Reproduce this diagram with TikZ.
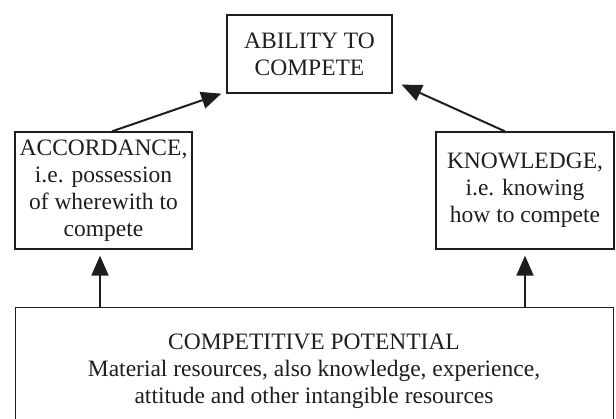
\documentclass[tikz,border=0pt]{standalone}
\usepackage{fontspec}
\setmainfont{Liberation Serif}
\usetikzlibrary{arrows.meta,calc}
\definecolor{ink}{HTML}{1E1E1E}
\begin{document}
\begin{tikzpicture}[x=1pt,y=1pt,
  txt/.style={align=center, text=ink, inner sep=0pt, font=\fontsize{23.5}{27}\selectfont},
  box/.style={txt, draw=ink, line width=1.3pt},
  conn/.style={draw=ink, line width=2pt, -{Triangle[length=20pt,width=17pt]}}]
\useasboundingbox (0,0) rectangle (616,-418);
\clip (0,0) rectangle (616,-418);
\node[box, minimum width=165pt, minimum height=78pt] (top) at (309.5,-54) {ABILITY TO\\COMPETE};
\node[box, minimum width=177pt, minimum height=117pt] (left) at (103.5,-190.5) {ACCORDANCE,\\i.e. possession\\of wherewith to\\compete};
\node[box, minimum width=178pt, minimum height=117pt] (right) at (525,-190.5) {KNOWLEDGE,\\i.e. knowing\\how to compete};
\node[box, minimum width=598pt, minimum height=130pt, anchor=north west] (base) at (15,-307) {};
\node[txt, anchor=base] (basetext) at (314,-403)
  {COMPETITIVE POTENTIAL\\Material resources, also knowledge, experience,\\attitude and other intangible resources};
\coordinate (lstart) at ($(left.north)+(8.5,0)$);
\coordinate (ltip) at ($(top.south west)+(-5,0)$);
\coordinate (rstart) at ($(right.north)+(-20,0)$);
\coordinate (rtip) at ($(top.south east)+(9,9)$);
\draw[conn] (lstart) -- (ltip);
\draw[conn] (rstart) -- (rtip);
\draw[conn] (base.north -| 100,0) -- ($(left.south -| 100,0)+(0,-6)$);
\draw[conn] (base.north -| 525,0) -- ($(right.south)+(0,-6)$);
\end{tikzpicture}
\end{document}
